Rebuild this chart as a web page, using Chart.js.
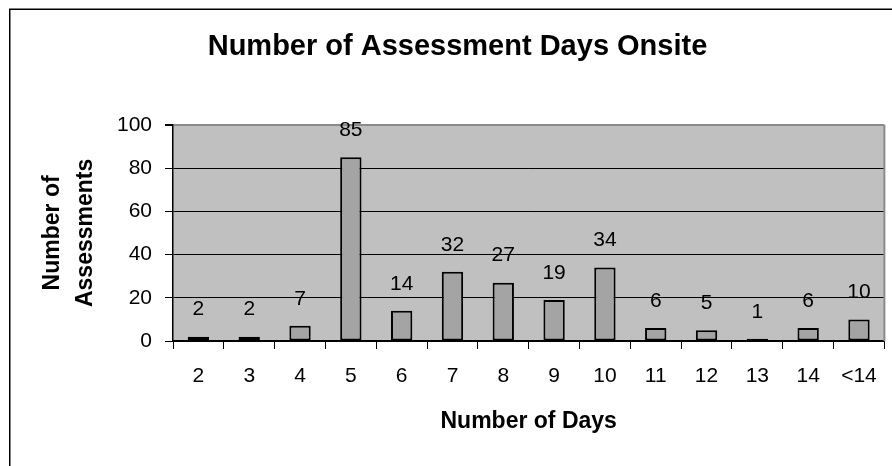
<!DOCTYPE html>
<html>
<head>
<meta charset="utf-8">
<title>Number of Assessment Days Onsite</title>
<script src="https://cdn.jsdelivr.net/npm/chart.js@4/dist/chart.umd.min.js"></script>
<style>
  html, body { margin: 0; padding: 0; background: #fff; }
  canvas { display: block; }
</style>
</head>
<body>
<canvas id="daysChart" width="892" height="466"></canvas>
<script>
const dayLabels = ['2', '3', '4', '5', '6', '7', '8', '9', '10', '11', '12', '13', '14', '<14'];
const assessmentCounts = [2, 2, 7, 85, 14, 32, 27, 19, 34, 6, 5, 1, 6, 10];
const yTicks = { min: 0, max: 100, step: 20 };

const FONT = "'Liberation Sans', Arial, sans-serif";

// white page, outer frame, grey plot area
const backdrop = {
  id: 'backdrop',
  beforeDraw(chart) {
    const { ctx, chartArea: a } = chart;
    ctx.save();
    ctx.fillStyle = '#fff';
    ctx.fillRect(0, 0, chart.width, chart.height);
    ctx.strokeStyle = '#000';
    ctx.lineWidth = 1.5;
    ctx.strokeRect(9.75, 9.25, chart.width + 20, chart.height + 20);
    ctx.fillStyle = '#c0c0c0';
    ctx.fillRect(a.left, a.top, a.right - a.left, a.bottom - a.top);
    ctx.restore();
  },
  afterDatasetsDraw(chart) {
    const { ctx, chartArea: a } = chart;
    ctx.save();
    ctx.strokeStyle = '#8a8a8a';
    ctx.lineWidth = 2;
    ctx.beginPath();
    ctx.moveTo(a.right, a.top);
    ctx.lineTo(a.right, a.bottom);
    ctx.stroke();
    ctx.restore();
  },
};

// value above each bar
const valueLabels = {
  id: 'valueLabels',
  afterDatasetsDraw(chart) {
    const { ctx } = chart;
    const meta = chart.getDatasetMeta(0);
    ctx.save();
    ctx.font = `21px ${FONT}`;
    ctx.fillStyle = '#000';
    ctx.textAlign = 'center';
    ctx.textBaseline = 'middle';
    meta.data.forEach((bar, i) => {
      ctx.fillText(String(assessmentCounts[i]), bar.x, bar.y - 27);
    });
    ctx.restore();
  },
};

new Chart(document.getElementById('daysChart'), {
  type: 'bar',
  data: {
    labels: dayLabels,
    datasets: [
      {
        data: assessmentCounts,
        backgroundColor: '#a4a4a4',
        borderColor: '#000',
        borderWidth: 2,
        borderSkipped: false,
        barPercentage: 0.42,
        categoryPercentage: 1,
      },
    ],
  },
  options: {
    responsive: false,
    animation: false,
    devicePixelRatio: 1,
    layout: { padding: { left: 29, right: 6, top: 0, bottom: 0 } },
    plugins: {
      legend: { display: false },
      tooltip: { enabled: false },
      title: {
        display: true,
        text: 'Number of Assessment Days Onsite',
        color: '#000',
        font: { family: FONT, size: 29, weight: 'bold', lineHeight: 1.2 },
        padding: { top: 30, bottom: 60 },
      },
    },
    scales: {
      x: {
        afterFit: (scale) => { scale.height = 125; },
        grid: {
          offset: true,
          drawOnChartArea: false,
          color: '#000',
          tickColor: '#000',
          tickLength: 8,
        },
        border: { display: true, color: '#000', width: 1.5 },
        ticks: {
          color: '#000',
          padding: 15,
          maxRotation: 0,
          autoSkip: false,
          font: { family: FONT, size: 21 },
        },
        title: {
          display: true,
          text: 'Number of Days',
          color: '#000',
          font: { family: FONT, size: 23, weight: 'bold', lineHeight: 1.2 },
          padding: { top: 0, bottom: 31 },
        },
      },
      y: {
        min: yTicks.min,
        max: yTicks.max,
        afterFit: (scale) => { scale.width = 144; },
        grid: {
          color: (c) => (c.tick && c.tick.value === yTicks.max ? '#8a8a8a' : '#000'),
          lineWidth: (c) => (c.tick && c.tick.value === yTicks.max ? 2 : 1),
          tickColor: '#000',
          tickLength: 8,
        },
        border: { display: true, color: '#000', width: 1.5 },
        ticks: {
          stepSize: yTicks.step,
          color: '#000',
          padding: 13,
          font: { family: FONT, size: 21 },
        },
        title: {
          display: true,
          text: ['Number of', 'Assessments'],
          color: '#000',
          font: { family: FONT, size: 23, weight: 'bold', lineHeight: 1.4 },
          padding: { top: 8, bottom: 0 },
        },
      },
    },
  },
  plugins: [backdrop, valueLabels],
});
</script>
</body>
</html>
